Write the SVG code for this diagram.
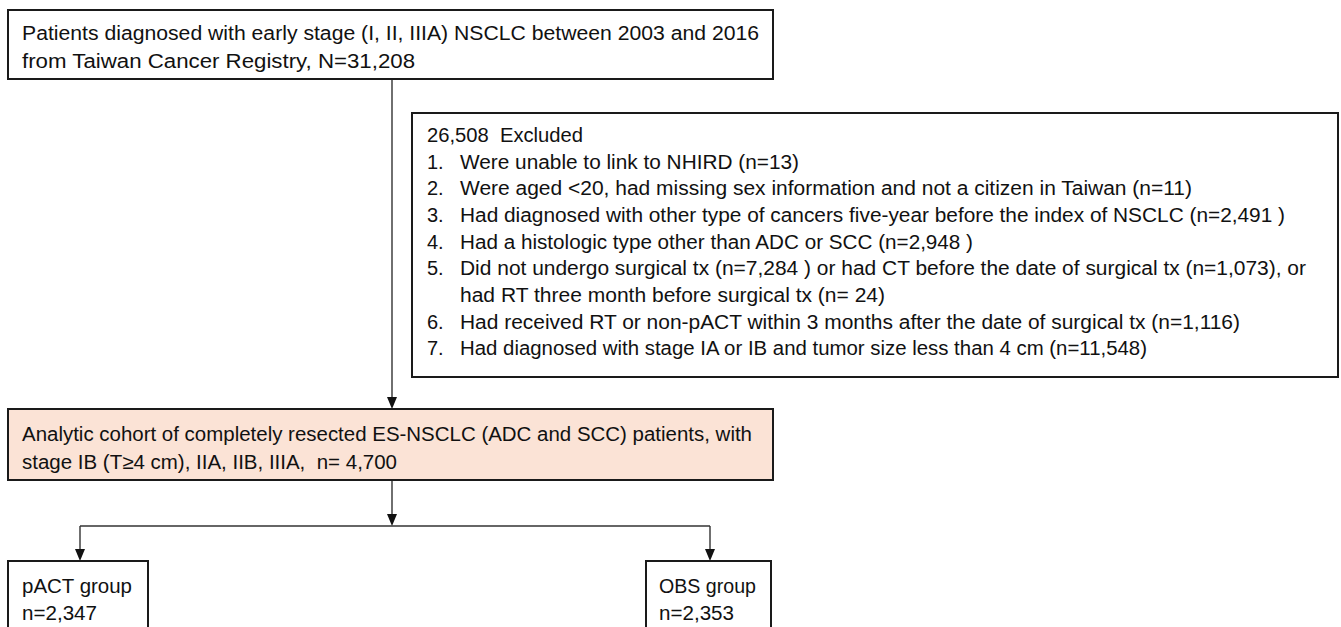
<svg xmlns="http://www.w3.org/2000/svg" width="1341" height="627" viewBox="0 0 1341 627">
<style>
.box{fill:#fff;stroke:#1a1a1a;stroke-width:2}
.cohort{fill:#FBE3D6;stroke:#1a1a1a;stroke-width:2}
text{font-family:"Liberation Sans",Arial,sans-serif;font-size:20px;fill:#111}
.conn{fill:none;stroke:#333;stroke-width:1.4}
.head{fill:#111}
</style>
<g id="connectors">
<line class="conn" x1="392" y1="80" x2="392" y2="397" stroke="#777"/>
<path class="head" d="M387 397 L397 397 L392 409 Z"/>
<line class="conn" x1="392" y1="480" x2="392" y2="514"/>
<path class="head" d="M387 514 L397 514 L392 526 Z"/>
<line class="conn" x1="80" y1="526" x2="710" y2="526"/>
<line class="conn" x1="80" y1="526" x2="80" y2="549"/>
<path class="head" d="M75 549 L85 549 L80 561 Z"/>
<line class="conn" x1="710" y1="526" x2="710" y2="549"/>
<path class="head" d="M705 549 L715 549 L710 561 Z"/>
</g>
<g id="node-source">
<rect class="box" x="8" y="10" width="765" height="69"/>
<text x="22" y="40" textLength="737" lengthAdjust="spacingAndGlyphs">Patients diagnosed with early stage (I, II, IIIA) NSCLC between 2003 and 2016</text>
<text x="22" y="68" textLength="393" lengthAdjust="spacingAndGlyphs">from Taiwan Cancer Registry, N=31,208</text>
</g>
<g id="node-excluded">
<rect class="box" x="412" y="113" width="926" height="264"/>
<text x="427" y="142" textLength="156" lengthAdjust="spacingAndGlyphs" xml:space="preserve">26,508  Excluded</text>
<text x="427" y="169">1.</text>
<text x="460" y="169" textLength="339" lengthAdjust="spacingAndGlyphs">Were unable to link to NHIRD (n=13)</text>
<text x="427" y="195">2.</text>
<text x="460" y="195" textLength="732" lengthAdjust="spacingAndGlyphs">Were aged &lt;20, had missing sex information and not a citizen in Taiwan (n=11)</text>
<text x="427" y="222">3.</text>
<text x="460" y="222" textLength="825" lengthAdjust="spacingAndGlyphs">Had diagnosed with other type of cancers five-year before the index of NSCLC (n=2,491 )</text>
<text x="427" y="249">4.</text>
<text x="460" y="249" textLength="513" lengthAdjust="spacingAndGlyphs">Had a histologic type other than ADC or SCC (n=2,948 )</text>
<text x="427" y="275">5.</text>
<text x="460" y="275" textLength="846" lengthAdjust="spacingAndGlyphs">Did not undergo surgical tx (n=7,284 ) or had CT before the date of surgical tx (n=1,073), or</text>
<text x="460" y="302" textLength="425" lengthAdjust="spacingAndGlyphs">had RT three month before surgical tx (n= 24)</text>
<text x="427" y="329">6.</text>
<text x="460" y="329" textLength="780" lengthAdjust="spacingAndGlyphs">Had received RT or non-pACT within 3 months after the date of surgical tx (n=1,116)</text>
<text x="427" y="355">7.</text>
<text x="460" y="355" textLength="687" lengthAdjust="spacingAndGlyphs">Had diagnosed with stage IA or IB and tumor size less than 4 cm (n=11,548)</text>
</g>
<g id="node-cohort">
<rect class="cohort" x="8" y="409" width="765" height="71"/>
<text x="22" y="441" textLength="730" lengthAdjust="spacingAndGlyphs">Analytic cohort of completely resected ES-NSCLC (ADC and SCC) patients, with</text>
<text x="22" y="469" textLength="375" lengthAdjust="spacingAndGlyphs" xml:space="preserve">stage IB (T≥4 cm), IIA, IIB, IIIA,  n= 4,700</text>
</g>
<g id="node-pact">
<rect class="box" x="8" y="561" width="140" height="80"/>
<text x="22" y="593" textLength="110" lengthAdjust="spacingAndGlyphs">pACT group</text>
<text x="22" y="620" textLength="75" lengthAdjust="spacingAndGlyphs">n=2,347</text>
</g>
<g id="node-obs">
<rect class="box" x="646" y="561" width="125" height="80"/>
<text x="659" y="593" textLength="97" lengthAdjust="spacingAndGlyphs">OBS group</text>
<text x="659" y="620" textLength="75" lengthAdjust="spacingAndGlyphs">n=2,353</text>
</g>
</svg>
